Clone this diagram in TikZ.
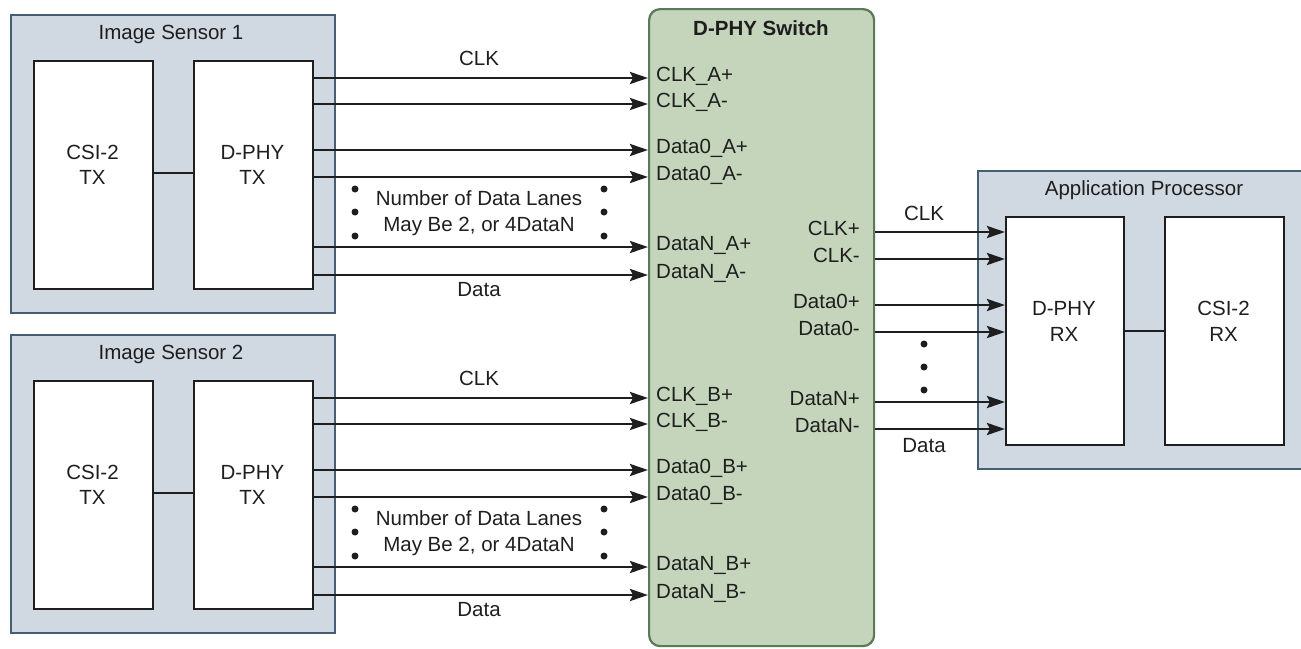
\documentclass[tikz,border=0pt]{standalone}
\usepackage{fontspec}
\setmainfont{Liberation Sans}
\usetikzlibrary{arrows.meta}
\definecolor{sensfill}{RGB}{208,216,226}
\definecolor{sensdraw}{RGB}{70,94,118}
\definecolor{swfill}{RGB}{196,213,187}
\definecolor{swdraw}{RGB}{88,122,84}
\definecolor{ink}{RGB}{30,30,30}
\begin{document}
\begin{tikzpicture}[x=1pt,y=-1pt,
  font=\fontsize{20.5}{25}\selectfont,
  outerbox/.style={draw=sensdraw, fill=sensfill, line width=2.2pt, inner sep=0pt, anchor=north west},
  innerbox/.style={draw=ink, fill=white, line width=2.4pt, inner sep=0pt, anchor=north west,
                   minimum width=119pt, minimum height=228pt},
  sig/.style={draw=ink, line width=2.8pt, -{Stealth[length=18pt,width=12pt,inset=3pt]}},
  wire/.style={draw=ink, line width=2.4pt},
  txt/.style={inner sep=0pt, text height=0.72em, text depth=0pt, text=ink},
  dotn/.style={circle, fill=ink, inner sep=0pt, minimum size=7pt}]
\useasboundingbox (0,0) rectangle (1301,648);

% ---------- D-PHY Switch ----------
\node[draw=swdraw, fill=swfill, line width=2.2pt, rounded corners=11pt, inner sep=0pt,
      anchor=north west, minimum width=225pt, minimum height=637pt] (sw) at (648,8) {};
\node[txt, font=\fontsize{20.5}{25}\selectfont\bfseries] (swt) at (761,32) {D-PHY Switch};

% ---------- Image sensors ----------
\foreach \s/\oy/\L in {1/0/A, 2/320/B} {
  \node[outerbox, minimum width=324pt, minimum height=298pt] (sen\s) at (10,14+\oy) {};
  \node[txt] (sent\s) at (171,36+\oy) {Image Sensor \s};
  \node[innerbox] (csi\s) at (33,60+\oy) {};
  \node[innerbox] (dphy\s) at (193,60+\oy) {};
  \node[txt] (csia\s) at (92.5,156+\oy) {CSI-2};
  \node[txt] (csib\s) at (92.5,181+\oy) {TX};
  \node[txt] (dpa\s) at (252.5,156+\oy) {D-PHY};
  \node[txt] (dpb\s) at (252.5,181+\oy) {TX};
  \draw[wire] (csi\s.east |- 0,173+\oy) -- (dphy\s.west |- 0,173+\oy);
  % signals
  \foreach \yy/\nm in {78/CLK\_\L+, 104/CLK\_\L-, 150/Data0\_\L+, 177/Data0\_\L-, 247/DataN\_\L+, 275/DataN\_\L-} {
    \draw[sig] (dphy\s.east |- 0,\yy+\oy) -- (sw.west |- 0,\yy+\oy);
    \node[txt, anchor=west] at (656,\yy+\oy) {\nm};
  }
  \node[txt] (clk\s) at (479,62+\oy) {CLK};
  \node[txt] (dat\s) at (479,293+\oy) {Data};
  \node[txt] (nla\s) at (479,202+\oy) {Number of Data Lanes};
  \node[txt] (nlb\s) at (479,228+\oy) {May Be 2, or 4DataN};
  \foreach \dy in {189,212,236} {
    \node[dotn] at (355,\dy+\oy) {};
    \node[dotn] at (604,\dy+\oy) {};
  }
}

% ---------- Application processor ----------
\node[outerbox, minimum width=330pt, minimum height=298pt] (ap) at (977,170) {};
\node[txt] (apt) at (1144,192) {Application Processor};
\node[innerbox, minimum width=118pt] (dphyrx) at (1005,216) {};
\node[innerbox] (csirx) at (1164,216) {};
\node[txt] (rxa) at (1064,312) {D-PHY};
\node[txt] (rxb) at (1064,338) {RX};
\node[txt] (rxc) at (1223.5,312) {CSI-2};
\node[txt] (rxd) at (1223.5,338) {RX};
\draw[wire] (dphyrx.east |- 0,331) -- (csirx.west |- 0,331);

\foreach \yy/\nm in {232/CLK+, 259/CLK-, 305/Data0+, 332/Data0-, 402/DataN+, 429/DataN-} {
  \draw[sig] (sw.east |- 0,\yy) -- (dphyrx.west |- 0,\yy);
  \node[txt, anchor=east] at (860,\yy) {\nm};
}
\node[txt] (clkr) at (924,217) {CLK};
\node[txt] (datr) at (924,449) {Data};
\foreach \dy in {344,367,390} {
  \node[dotn] at (924,\dy) {};
}
\end{tikzpicture}
\end{document}
